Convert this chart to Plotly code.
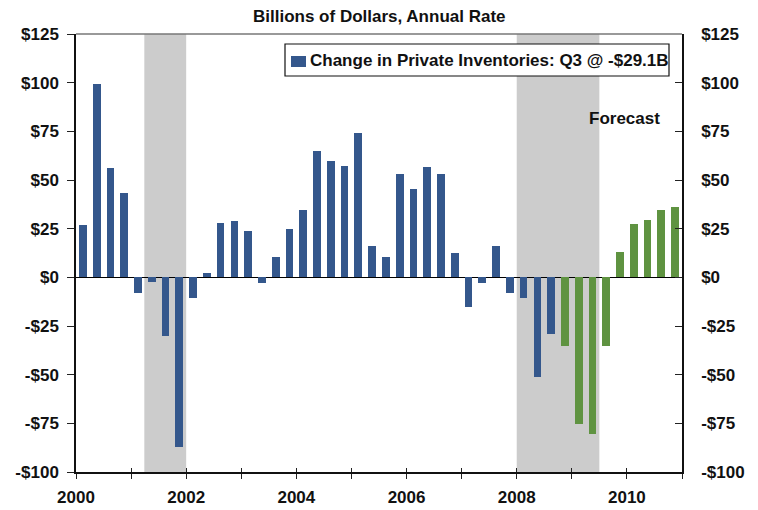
import plotly.graph_objects as go

# ---- data ----
start_year = 2000
actual_values = [27.0, 99.5, 56.2, 43.4,
                 -7.9, -2.2, -30.0, -87.1,
                 -10.5, 2.2, 28.0, 29.0,
                 23.8, -2.7, 10.5, 24.9,
                 34.6, 65.0, 59.8, 57.3,
                 74.2, 16.1, 10.5, 53.2,
                 45.4, 56.8, 53.2, 12.5,
                 -15.1, -2.7, 16.1, -7.9,
                 -10.5, -51.1, -29.1]
forecast_values = [-35.2, -75.3, -80.4, -35.2, 13.0, 27.4, 29.5, 34.6, 36.2]
recessions = [(2001.24, 2002.0), (2008.0, 2009.5)]
y_tickvals = [125, 100, 75, 50, 25, 0, -25, -50, -75, -100]
y_ticktext = ["$125", "$100", "$75", "$50", "$25", "$0", "-$25", "-$50", "-$75", "-$100"]
x_tickvals = list(range(2000, 2012))
x_ticktext = [str(y) if y % 2 == 0 and y < 2011 else "" for y in x_tickvals]
legend_name = "Change in Private Inventories: Q3 @ -$29.1B"
subtitle = "Billions of Dollars, Annual Rate"

n_act = len(actual_values)
x_act = [start_year + (i + 0.5) / 4 for i in range(n_act)]
x_fc = [start_year + (n_act + i + 0.5) / 4 for i in range(len(forecast_values))]

BLUE = "#34578c"
GREEN = "#5f9341"
FONT = "Liberation Sans"

fig = go.Figure()
fig.add_trace(go.Bar(x=x_act, y=actual_values, marker=dict(color=BLUE, line=dict(width=0)),
                     width=0.14, name=legend_name, showlegend=False))
fig.add_trace(go.Bar(x=x_fc, y=forecast_values, marker=dict(color=GREEN, line=dict(width=0)),
                     width=0.14, name="Forecast", showlegend=False))
# helper traces to activate secondary axes
fig.add_trace(go.Scatter(x=[None], y=[None], yaxis="y2", showlegend=False, hoverinfo="skip"))
fig.add_trace(go.Scatter(x=[None], y=[None], xaxis="x2", showlegend=False, hoverinfo="skip"))

for x0, x1 in recessions:
    fig.add_shape(type="rect", xref="x", yref="paper", x0=x0, x1=x1, y0=0, y1=1,
                  fillcolor="#cccccc", line=dict(width=0), layer="below")

tickfont = dict(family=FONT, size=17, color="#111111", weight="bold")

fig.update_layout(
    width=758, height=510,
    margin=dict(l=76, r=76, t=34, b=38, autoexpand=False),
    paper_bgcolor="white", plot_bgcolor="white",
    barmode="overlay",
    bargap=0,
    xaxis=dict(range=[2000, 2011], tickvals=x_tickvals, ticktext=x_ticktext,
               ticks="outside", ticklen=5, tickcolor="#222", tickwidth=1,
               showline=True, linecolor="#111", linewidth=1.5, mirror=False,
               showgrid=False, zeroline=False, tickfont=tickfont,
               ticklabelstandoff=4, automargin=False),
    xaxis2=dict(range=[2000, 2011], overlaying="x", anchor="y", side="bottom",
                tickvals=x_tickvals, ticktext=["" for _ in x_tickvals],
                ticks="inside", ticklen=4, tickcolor="#222", tickwidth=1,
                showline=False, showgrid=False, zeroline=False, automargin=False),
    yaxis=dict(range=[-100, 125], tickvals=y_tickvals, ticktext=y_ticktext,
               ticks="outside", ticklen=7, tickcolor="#222", tickwidth=1,
               showline=True, linecolor="#111", linewidth=1.5,
               showgrid=False, zeroline=True, zerolinecolor="#000", zerolinewidth=1.2,
               tickfont=tickfont, ticklabelstandoff=5, automargin=False),
    yaxis2=dict(range=[-100, 125], overlaying="y", side="right", anchor="x",
                tickvals=y_tickvals, ticktext=y_ticktext,
                ticks="inside", ticklen=7, tickcolor="#222", tickwidth=1,
                showline=True, linecolor="#111", linewidth=1.5,
                showgrid=False, zeroline=False, tickfont=tickfont,
                ticklabelstandoff=14, automargin=False),
    showlegend=False,
)

# top border line
fig.add_shape(type="line", xref="paper", yref="paper", x0=0, x1=1, y0=1, y1=1,
              line=dict(color="#777", width=1.5))

# legend box (drawn manually to match the original layout)
px_w, px_h = 606.0, 438.0
lx0, lx1 = (285 - 76) / px_w, (669 - 76) / px_w
ly0, ly1 = (472 - 76) / px_h, (472 - 44) / px_h
fig.add_shape(type="rect", xref="paper", yref="paper", x0=lx0, x1=lx1, y0=ly0, y1=ly1,
              fillcolor="white", line=dict(color="#111", width=1.2), layer="above")
fig.add_shape(type="rect", xref="paper", yref="paper",
              x0=(291 - 76) / px_w, x1=(306 - 76) / px_w,
              y0=(472 - 67) / px_h, y1=(472 - 56) / px_h,
              fillcolor=BLUE, line=dict(width=0), layer="above")
fig.add_annotation(text=legend_name, xref="paper", yref="paper",
                   x=(308 - 76) / px_w, y=(472 - 60.5) / px_h,
                   showarrow=False, xanchor="left", yanchor="middle",
                   font=dict(family=FONT, size=17, color="#111", weight="bold"))

fig.add_annotation(text=subtitle, xref="paper", yref="paper", x=0.5, y=(472 - 16) / px_h,
                   showarrow=False, xanchor="center", yanchor="middle",
                   font=dict(family=FONT, size=17, color="#111", weight="bold"))
fig.add_annotation(text="Forecast", xref="x", yref="paper", x=2009.95, y=(472 - 119) / px_h,
                   showarrow=False, xanchor="center", yanchor="middle",
                   font=dict(family=FONT, size=17, color="#111", weight="bold"))

fig.write_html("out.html", config={"displayModeBar": False},
               post_script="document.body.style.margin='0';document.body.style.overflow='hidden';")
